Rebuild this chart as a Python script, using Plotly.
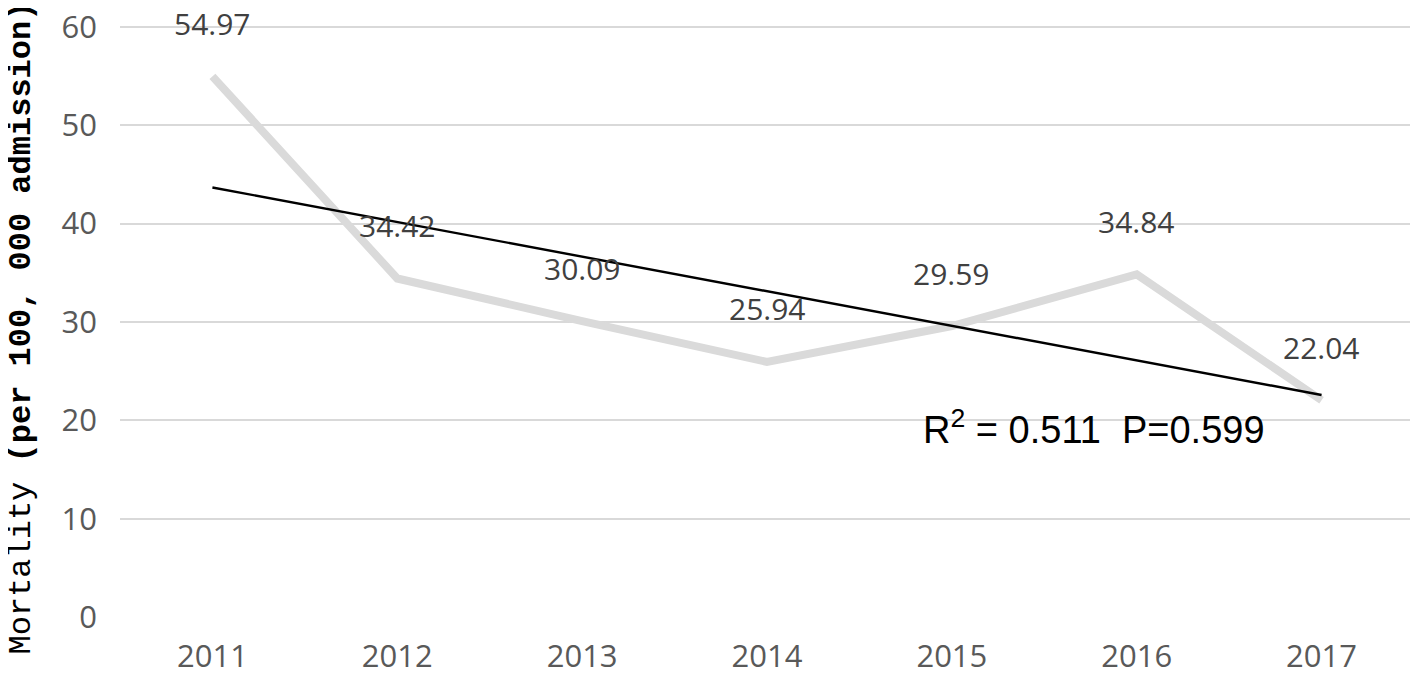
import numpy as np
import plotly.graph_objects as go

# --- data ---
years = ["2011", "2012", "2013", "2014", "2015", "2016", "2017"]
mortality = [54.97, 34.42, 30.09, 25.94, 29.59, 34.84, 22.04]
y_ticks = [0, 10, 20, 30, 40, 50, 60]
stats_text = "R<sup>2</sup> = 0.511  P=0.599"
y_title_plain = "Mortality "
y_title_bold = "(per 100, 000 admission)"

# linear trend over the year index
idx = np.arange(len(years))
slope, intercept = np.polyfit(idx, mortality, 1)
trend = slope * idx + intercept

fig = go.Figure()

fig.add_trace(go.Scatter(
    x=years, y=mortality, mode="lines",
    line=dict(color="#dadada", width=8),
    hoverinfo="skip", showlegend=False,
))
fig.add_trace(go.Scatter(
    x=years, y=trend, mode="lines",
    line=dict(color="#000000", width=2.4),
    hoverinfo="skip", showlegend=False,
))

# value labels above each point (category index as x)
for i, v in enumerate(mortality):
    fig.add_annotation(
        x=i, y=v, xref="x", yref="y", text=f"{v:.2f}",
        showarrow=False, yshift=53,
        font=dict(family="Open Sans", size=30, color="#404040"),
    )

# regression stats
fig.add_annotation(
    x=4.77, y=19.3, xref="x", yref="y", text=stats_text,
    showarrow=False, xanchor="center", yanchor="middle",
    font=dict(family="Liberation Sans", size=38, color="#000000"),
)

# y axis title
fig.add_annotation(
    x=0, y=0.5, xref="paper", yref="paper", xshift=-99, yshift=-8,
    text=y_title_plain + "<b>" + y_title_bold + "</b>",
    textangle=-90, showarrow=False, xanchor="center", yanchor="middle",
    font=dict(family="Liberation Mono", size=32, color="#000000"),
)

# page body has an 8px default margin, so offsets compensate for it
fig.update_layout(
    width=1418, height=679,
    margin=dict(l=112, r=12, t=16, b=70),
    paper_bgcolor="white", plot_bgcolor="white",
    showlegend=False,
)
fig.update_xaxes(
    type="category", range=[-0.5, 6.5], automargin=False,
    showgrid=False, showline=False, zeroline=False,
    ticks="", ticklabelstandoff=18,
    tickfont=dict(family="Open Sans", size=31, color="#595959"),
)
fig.update_yaxes(
    range=[0, 60.3], tickvals=y_ticks, automargin=False,
    showgrid=True, gridcolor="#d9d9d9", gridwidth=2,
    showline=False, zeroline=False,
    ticks="", ticklabelstandoff=22, ticklabeloverflow="allow",
    tickfont=dict(family="Open Sans", size=31, color="#595959"),
)

fig.write_html("out.html")
